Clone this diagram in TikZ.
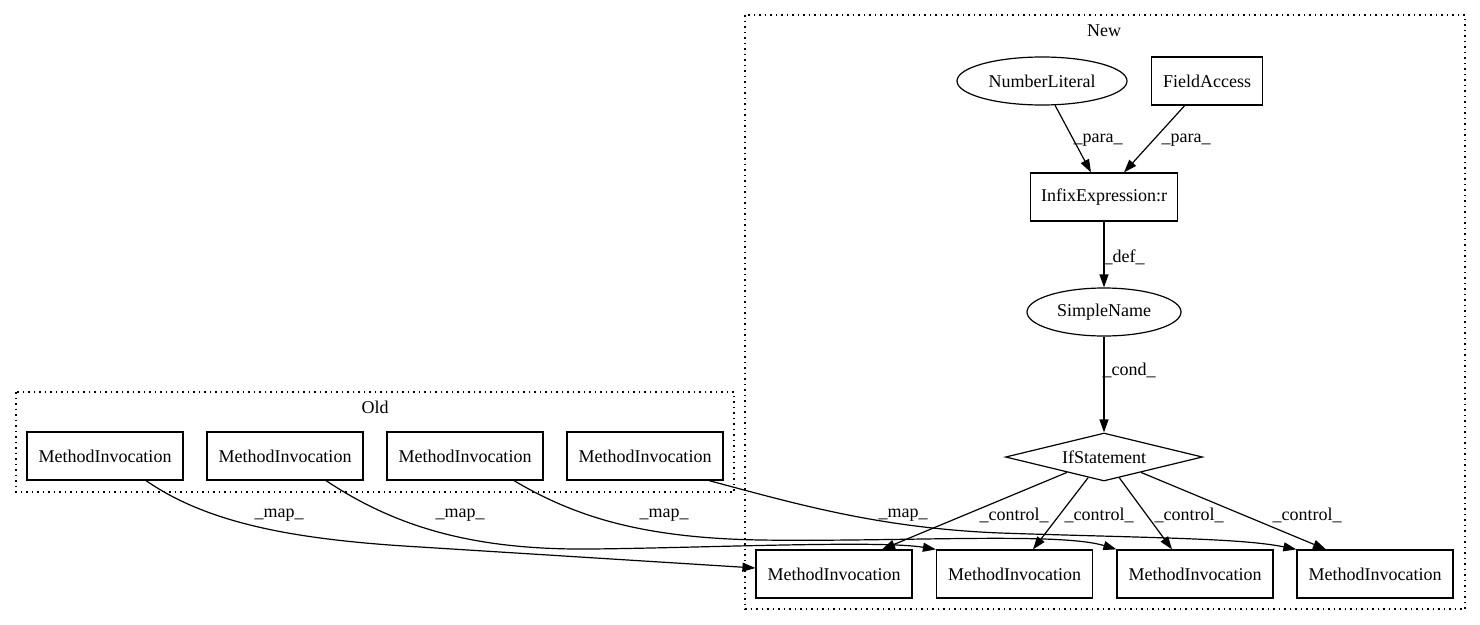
\documentclass[tikz,border=0pt]{standalone}
\usepackage{fontspec}
\setmainfont{Liberation Serif}
\usetikzlibrary{arrows.meta,calc,shapes.geometric}
\begin{document}
\begin{tikzpicture}[x=1pt,y=-1pt,
 every node/.style={font=\fontsize{18}{20}\selectfont},
 box/.style={draw,line width=1.2pt,rectangle,minimum height=48pt,inner sep=0pt},
 mi/.style={box,minimum width=156pt},
 ell/.style={draw,line width=1.2pt,ellipse,inner sep=0pt,minimum height=48pt},
 dia/.style={draw,line width=1.2pt,diamond,aspect=4.1,inner sep=0pt,minimum width=197pt,minimum height=48pt},
 lbl/.style={inner sep=0pt},
 edge/.style={line width=1.2pt,-{Triangle[length=13pt,width=9pt]}},
 cluster/.style={draw,line width=1.2pt,dash pattern=on 1.5pt off 4pt}]
\useasboundingbox (0,0) rectangle (1480,624);
% clusters
\draw[cluster] (16,392) rectangle (734,492);
\node[lbl] (oldlbl) at (375,407) {Old};
\draw[cluster] (745,15) rectangle (1465,609);
\node[lbl] (newlbl) at (1104,31) {New};
% old nodes
\node[mi] (o1) at (105,456) {MethodInvocation};
\node[mi] (o2) at (285,456) {MethodInvocation};
\node[mi] (o3) at (465,456) {MethodInvocation};
\node[mi] (o4) at (645,456) {MethodInvocation};
% new nodes
\node[ell,minimum width=170pt] (nl) at (1042,81) {NumberLiteral};
\node[box,minimum width=111pt] (fa) at (1207,81) {FieldAccess};
\node[box,minimum width=147pt] (ie) at (1104,197) {InfixExpression:r};
\node[ell,minimum width=154pt] (sn) at (1104,312) {SimpleName};
\node[dia] (if) at (1104,457) {IfStatement};
\node[mi] (n1) at (834,574) {MethodInvocation};
\node[mi] (n2) at (1014.5,574) {MethodInvocation};
\node[mi] (n3) at (1195,574) {MethodInvocation};
\node[mi] (n4) at (1375,574) {MethodInvocation};
% new edges
\draw[edge] (nl) -- ($(ie.north)+(-13,0)$);
\draw[edge] (fa) -- ($(ie.north)+(20,0)$);
\draw[edge] (ie) -- (sn);
\draw[edge] (sn) -- (if);
\draw[edge] (if) -- ($(n1.north)+(48,0)$);
\draw[edge] (if) -- ($(n2.north)+(18.5,0)$);
\draw[edge] (if) -- ($(n3.north)+(-23,0)$);
\draw[edge] (if) -- ($(n4.north)+(-49,0)$);
\node[lbl] (l1) at (1098,140) {\_para\_};
\node[lbl] (l2) at (1186,140) {\_para\_};
\node[lbl] (l3) at (1124,257) {\_def\_};
\node[lbl] (l4) at (1129,370) {\_cond\_};
\node[lbl] (c1) at (1014,515) {\_control\_};
\node[lbl] (c2) at (1099,515) {\_control\_};
\node[lbl] (c3) at (1189,515) {\_control\_};
\node[lbl] (c4) at (1307,515) {\_control\_};
% map edges
\draw[edge] ($(o1.south)+(41,0)$) .. controls (210,525) and (300,540) .. (420,547) -- ($(n1.west)+(0,-6)$);
\draw[edge] ($(o2.south)+(41,0)$) .. controls (400,530) and (480,550) .. (590,549) .. controls (700,548) and (880,540) .. (n2.north west);
\draw[edge] ($(o3.south)+(49,0)$) .. controls (580,520) and (650,538) .. (760,540) .. controls (900,542) and (1060,532) .. (n3.north west);
\draw[edge] ($(o4.south)+(64,0)$) .. controls (800,505) and (880,528) .. (1000,533) .. controls (1150,538) and (1240,538) .. (n4.north west);
\node[lbl] (m1) at (279,515) {\_map\_};
\node[lbl] (m2) at (460,515) {\_map\_};
\node[lbl] (m3) at (664,515) {\_map\_};
\node[lbl] (m4) at (903,515) {\_map\_};
\end{tikzpicture}
\end{document}
